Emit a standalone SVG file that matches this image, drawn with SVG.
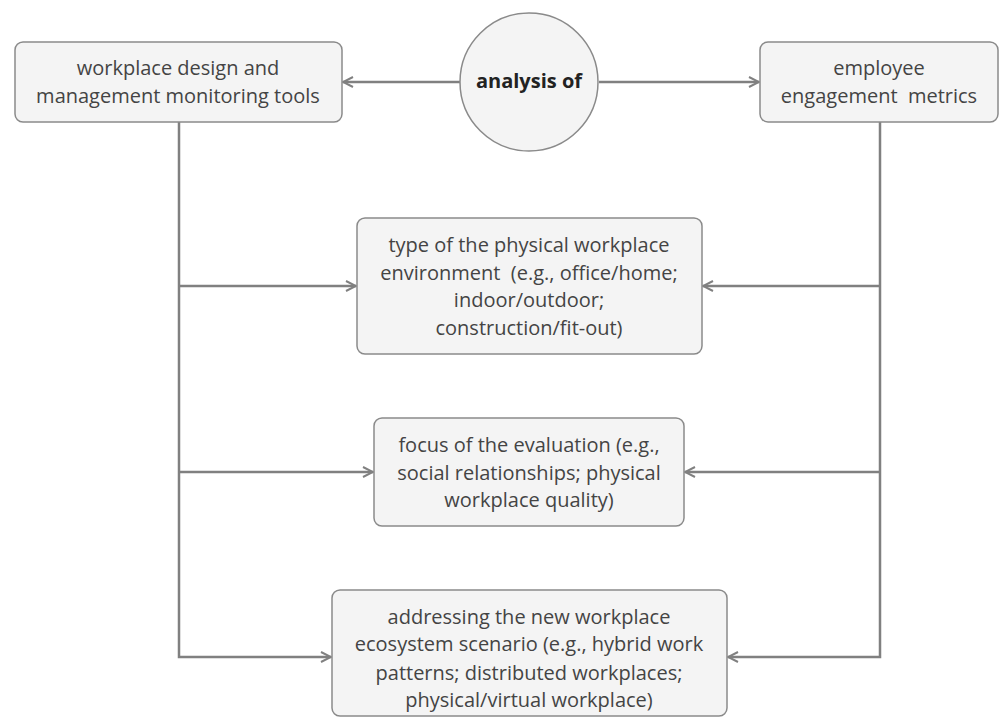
<svg xmlns="http://www.w3.org/2000/svg" width="1000" height="720" viewBox="0 0 1000 720">
<defs>
<marker id="arr" viewBox="0 0 12 12" refX="11" refY="6" markerWidth="12" markerHeight="12" markerUnits="userSpaceOnUse" orient="auto">
<path d="M1,1 L11,6 L1,11" fill="none" stroke="#808080" stroke-width="2"/>
</marker>
<style>
.box{fill:#f4f4f4;stroke:#8a8a8a;stroke-width:1.5}
.t{font-family:"Open Sans","Noto Sans",sans-serif;font-size:20px;fill:#444;text-anchor:middle;white-space:pre}
.b{font-weight:bold;fill:#222}
.c{fill:none;stroke:#808080;stroke-width:2.5}
</style>
</defs>
<rect width="1000" height="720" fill="#fff"/>
<g id="connectors">
<path class="c" d="M460,82 H343" marker-end="url(#arr)"/>
<path class="c" d="M599,82 H759" marker-end="url(#arr)"/>
<path class="c" d="M179,122 V657 H331" marker-end="url(#arr)"/>
<path class="c" d="M179,286 H356" marker-end="url(#arr)"/>
<path class="c" d="M179,472 H373" marker-end="url(#arr)"/>
<path class="c" d="M880,122 V657 H728" marker-end="url(#arr)"/>
<path class="c" d="M880,286 H703" marker-end="url(#arr)"/>
<path class="c" d="M880,472 H685" marker-end="url(#arr)"/>
</g>
<g id="tools">
<rect class="box" x="15" y="42" width="327" height="80" rx="8"/>
<text class="t" x="178" y="75">workplace design and</text>
<text class="t" x="178" y="103">management monitoring tools</text>
</g>
<g id="analysis">
<circle class="box" cx="529" cy="82" r="69"/>
<text class="t b" x="529" y="88">analysis of</text>
</g>
<g id="metrics">
<rect class="box" x="760" y="42" width="238" height="80" rx="8"/>
<text class="t" x="879" y="75">employee</text>
<text class="t" x="879" y="103">engagement  metrics</text>
</g>
<g id="type">
<rect class="box" x="357" y="218" width="345" height="136" rx="8"/>
<text class="t" x="529" y="252">type of the physical workplace</text>
<text class="t" x="529" y="280">environment  (e.g., office/home;</text>
<text class="t" x="529" y="307">indoor/outdoor;</text>
<text class="t" x="529" y="335">construction/fit-out)</text>
</g>
<g id="focus">
<rect class="box" x="374" y="418" width="310" height="108" rx="8"/>
<text class="t" x="529" y="452">focus of the evaluation (e.g.,</text>
<text class="t" x="529" y="480">social relationships; physical</text>
<text class="t" x="529" y="507">workplace quality)</text>
</g>
<g id="ecosystem">
<rect class="box" x="332" y="590" width="395" height="126" rx="8"/>
<text class="t" x="529" y="624">addressing the new workplace</text>
<text class="t" x="529" y="651">ecosystem scenario (e.g., hybrid work</text>
<text class="t" x="529" y="680">patterns; distributed workplaces;</text>
<text class="t" x="529" y="707">physical/virtual workplace)</text>
</g>
</svg>
